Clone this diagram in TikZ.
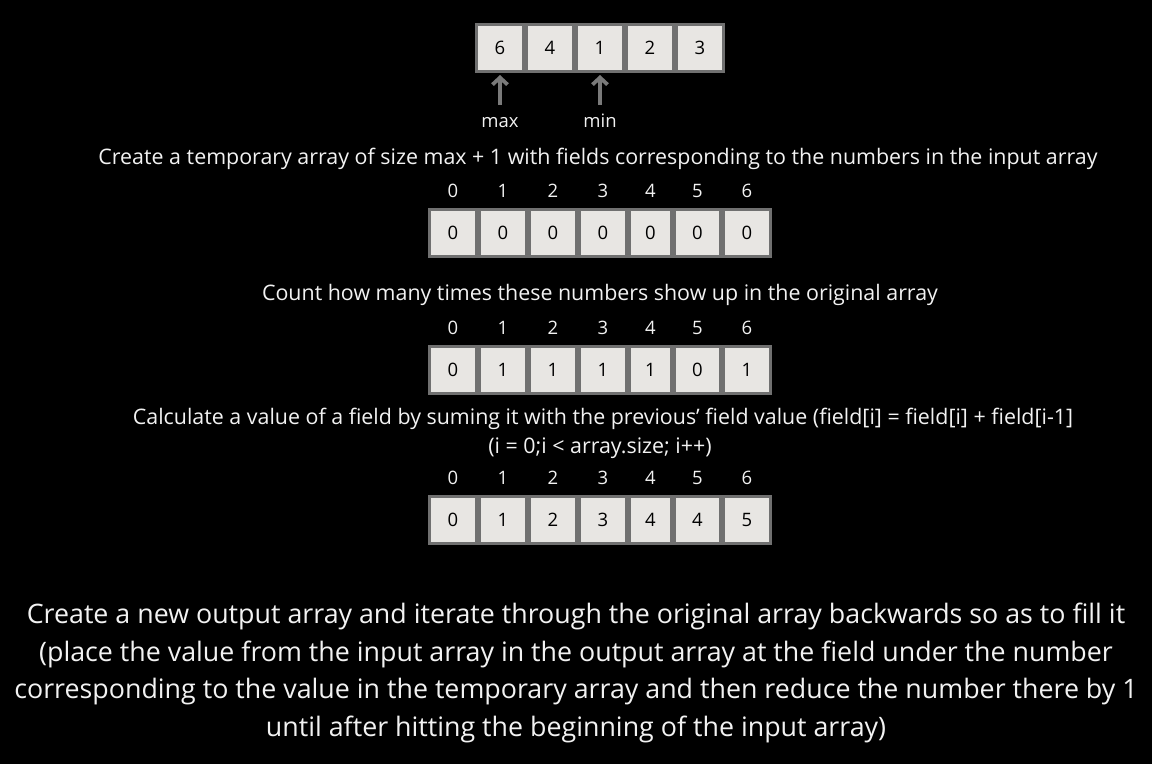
\documentclass[tikz,border=0pt]{standalone}
\usepackage{fontspec}
\setmainfont{Open Sans}
\usetikzlibrary{arrows.meta}
\definecolor{cellfill}{HTML}{E8E6E3}
\definecolor{cellline}{HTML}{707070}
\definecolor{arrowc}{HTML}{7A7A7A}
\definecolor{txt}{HTML}{F2F2F2}
\tikzset{
  cell/.style={draw=cellline, fill=cellfill, line width=3.4pt, inner sep=0pt, minimum height=46.6pt, text=black, font=\fontsize{18.5}{22}\selectfont},
  idx/.style={text=txt, font=\fontsize{18.5}{22}\selectfont, inner sep=0pt},
  lbl/.style={text=txt, font=\fontsize{21.4}{25}\selectfont, inner sep=0pt},
  big/.style={text=txt, font=\fontsize{26.8}{37.4}\selectfont, inner sep=0pt, align=center},
  arr/.style={draw=arrowc, line width=3.8pt, -{Straight Barb[length=7pt,width=15pt]}}
}
\begin{document}
\begin{tikzpicture}[x=1pt,y=-1pt]
\useasboundingbox[fill=black] (0,0) rectangle (1152,764);
% input array
\foreach \v [count=\i] in {6,4,1,2,3}{
  \node[cell, minimum width=46.6pt] (in\i) at ({450+50*\i},48) {\v};
}
\node[idx, anchor=base] (max) at (500,127) {max};
\node[idx, anchor=base] (min) at (600,127) {min};
\draw[arr] (500,105) coordinate (maxtail) -- ([yshift=-2pt]in1.south);
\draw[arr] (600,105) coordinate (mintail) -- ([yshift=-2pt]in3.south);
\node[lbl] (t1) at (598,159) {Create a temporary array of size max + 1 with fields corresponding to the numbers in the input array};
% index rows
\def\xs{{428,478,528,578,628,673,722,772}}
\foreach \name/\yc in {a/233, b/370, c/520}{
  \foreach \i in {0,...,6}{
    \pgfmathsetmacro{\xl}{\xs[\i]}\pgfmathsetmacro{\xr}{\xs[\i+1]}
    \pgfmathsetmacro{\xc}{(\xl+\xr)/2}
    \node[idx] (\name idx\i) at (\xc,\yc-42.5) {\i};
  }
}
% array a
\foreach \v [count=\i from 0] in {0,0,0,0,0,0,0}{
  \pgfmathsetmacro{\xl}{\xs[\i]}\pgfmathsetmacro{\xr}{\xs[\i+1]}
  \pgfmathsetmacro{\w}{\xr-\xl-3.4}\pgfmathsetmacro{\xc}{(\xl+\xr)/2}
  \node[cell, minimum width=\w pt] (a\i) at (\xc,233) {\v};
}
\node[lbl] (t2) at (600,295) {Count how many times these numbers show up in the original array};
% array b
\foreach \v [count=\i from 0] in {0,1,1,1,1,0,1}{
  \pgfmathsetmacro{\xl}{\xs[\i]}\pgfmathsetmacro{\xr}{\xs[\i+1]}
  \pgfmathsetmacro{\w}{\xr-\xl-3.4}\pgfmathsetmacro{\xc}{(\xl+\xr)/2}
  \node[cell, minimum width=\w pt] (b\i) at (\xc,370) {\v};
}
\node[lbl] (t3) at (603,419) {Calculate a value of a field by suming it with the previous’ field value (field[i] = field[i] + field[i-1]};
\node[lbl] (t4) at (600,448) {(i = 0;i < array.size; i++)};
% array c
\foreach \v [count=\i from 0] in {0,1,2,3,4,4,5}{
  \pgfmathsetmacro{\xl}{\xs[\i]}\pgfmathsetmacro{\xr}{\xs[\i+1]}
  \pgfmathsetmacro{\w}{\xr-\xl-3.4}\pgfmathsetmacro{\xc}{(\xl+\xr)/2}
  \node[cell, minimum width=\w pt] (c\i) at (\xc,520) {\v};
}
\node[big] (t5) at (576,673) {Create a new output array and iterate through the original array backwards so as to fill it\\(place the value from the input array in the output array at the field under the number\\corresponding to the value in the temporary array and then reduce the number there by 1\\until after hitting the beginning of the input array)};
\end{tikzpicture}
\end{document}
